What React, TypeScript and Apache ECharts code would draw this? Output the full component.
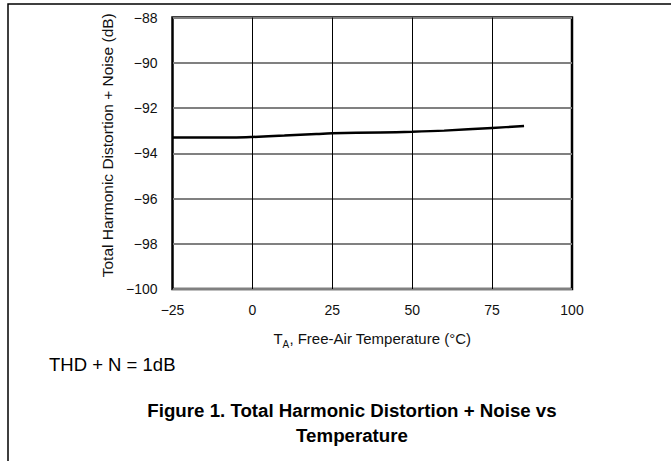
import React, { useEffect, useRef } from "react";
import * as echarts from "echarts";

const temperatures = [-25, -15, -5, 0, 10, 20, 25, 40, 50, 60, 75, 85];
const thdValues = [-93.3, -93.3, -93.3, -93.28, -93.22, -93.15, -93.12, -93.08, -93.05, -93.0, -92.88, -92.8];
const xTicks = [-25, 0, 25, 50, 75, 100];
const yTicks = [-100, -98, -96, -94, -92, -90, -88];

const FONT = "'Liberation Sans', Arial, sans-serif";
const minus = (v: number) => String(v).replace("-", "\u2212");

export default function App() {
  const ref = useRef<HTMLDivElement>(null);
  useEffect(() => {
    if (!ref.current) return;
    const chart = echarts.init(ref.current, undefined, { renderer: "svg" });
    chart.setOption({
      animation: false,
      backgroundColor: "#fff",
      grid: {
        left: 172.5,
        right: 99,
        top: 17.5,
        bottom: 172,
        show: true,
        borderColor: "#000",
        borderWidth: 2.5,
      },
      xAxis: {
        type: "value",
        min: xTicks[0],
        max: xTicks[xTicks.length - 1],
        interval: 25,
        axisLine: { show: false },
        axisTick: { show: false },
        splitLine: { show: true, lineStyle: { color: "#000", width: 1 } },
        axisLabel: {
          margin: 14,
          fontFamily: FONT,
          fontSize: 14,
          color: "#111",
          formatter: (v: number) => minus(v),
        },
        name: "{t|T}{s|A}{t|, Free-Air Temperature (°C)}",
        nameLocation: "middle",
        nameGap: 38,
        nameTextStyle: {
          fontFamily: FONT,
          color: "#111",
          rich: {
            t: { fontSize: 15, fontFamily: FONT, color: "#111", lineHeight: 22, verticalAlign: "middle" },
            s: { fontSize: 10, fontFamily: FONT, color: "#111", padding: [13, 0, 0, 0], lineHeight: 22, verticalAlign: "bottom" },
          },
        },
      },
      yAxis: {
        type: "value",
        min: yTicks[0],
        max: yTicks[yTicks.length - 1],
        interval: 2,
        axisLine: { show: false },
        axisTick: { show: false },
        splitLine: { show: true, lineStyle: { color: "#808080", width: 2 } },
        axisLabel: {
          margin: 15,
          fontFamily: FONT,
          fontSize: 14,
          color: "#111",
          formatter: (v: number) => minus(v),
        },
        name: "Total Harmonic Distortion + Noise (dB)",
        nameLocation: "middle",
        nameRotate: 90,
        nameGap: 55,
        nameTextStyle: { fontFamily: FONT, fontSize: 15.5, color: "#111", padding: [0, 0, 0, 16] },
      },
      series: [
        {
          type: "line",
          data: temperatures.map((t, i) => [t, thdValues[i]]),
          showSymbol: false,
          smooth: 0.3,
          lineStyle: { color: "#000", width: 2.5 },
        },
      ],
      graphic: [
        {
          type: "polyline",
          shape: { points: [[8, 461], [8, 4], [671, 4]] },
          style: { stroke: "#000", lineWidth: 1.5, fill: null },
        },
        {
          type: "text",
          x: 49,
          y: 364,
          style: { text: "THD + N = 1dB", font: `18.5px ${FONT}`, fill: "#000", verticalAlign: "middle" },
        },
        {
          type: "text",
          x: 352,
          y: 397.5,
          style: {
            text: "Figure 1. Total Harmonic Distortion + Noise vs\nTemperature",
            font: `bold 18.7px ${FONT}`,
            fill: "#000",
            align: "center",
            verticalAlign: "top",
            lineHeight: 25,
          },
        },
      ],
    });
    return () => chart.dispose();
  }, []);
  return <div ref={ref} style={{ position: "fixed", left: 0, top: 0, width: 671, height: 461 }} />;
}
